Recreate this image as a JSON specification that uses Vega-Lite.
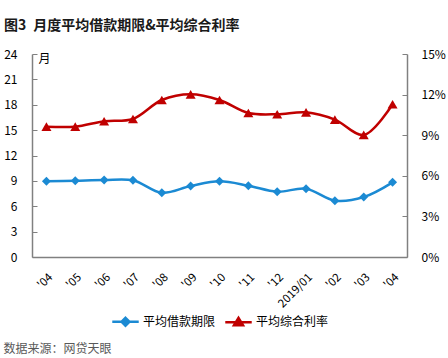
{
  "$schema": "https://vega.github.io/schema/vega-lite/v6.json",
  "autosize": "none",
  "width": 375,
  "height": 203,
  "padding": {"left": 32, "top": 54, "right": 41, "bottom": 101},
  "background": "white",
  "config": {"font": "Noto Sans CJK SC", "view": {"stroke": null}},
  "title": {"text": "图3\u2002月度平均借款期限&平均综合利率", "anchor": "start", "frame": "group", "dx": -28, "fontSize": 14, "fontWeight": "bold", "color": "#1a1a1a", "offset": 15},
  "data": {"values": [
    {"month": "2018-04", "term": 8.95, "rate": 9.63},
    {"month": "2018-05", "term": 9.02, "rate": 9.63},
    {"month": "2018-06", "term": 9.1, "rate": 10.03},
    {"month": "2018-07", "term": 9.07, "rate": 10.2},
    {"month": "2018-08", "term": 7.6, "rate": 11.6},
    {"month": "2018-09", "term": 8.39, "rate": 12.02},
    {"month": "2018-10", "term": 8.95, "rate": 11.6},
    {"month": "2018-11", "term": 8.43, "rate": 10.64},
    {"month": "2018-12", "term": 7.72, "rate": 10.55},
    {"month": "2019-01", "term": 8.07, "rate": 10.69},
    {"month": "2019-02", "term": 6.66, "rate": 10.15},
    {"month": "2019-03", "term": 7.09, "rate": 9.02},
    {"month": "2019-04", "term": 8.83, "rate": 11.29}
  ]},
  "encoding": {
    "x": {
      "field": "month", "type": "ordinal", "sort": null,
      "scale": {"type": "point", "padding": 0.5},
      "axis": {
        "title": "数据来源：网贷天眼", "titleAnchor": "start", "titleAlign": "left", "titleX": -29, "titleY": 91,
        "titleFontSize": 12, "titleFontWeight": "normal", "titleColor": "#595959", "titleBaseline": "middle",
        "labelAngle": -45, "labelFontSize": 11.5, "labelColor": "#000000", "ticks": false, "labelPadding": 14,
        "domainColor": "#808080", "domainWidth": 1.5,
        "labelExpr": "datum.value == '2019-01' ? '2019/01' : \"'\" + substring(datum.value, 5)"
      }
    }
  },
  "layer": [
    {
      "encoding": {
        "y": {"field": "term", "type": "quantitative", "scale": {"domain": [0, 24]},
          "axis": {"values": [0, 3, 6, 9, 12, 15, 18, 21, 24], "title": "月", "titleAngle": 0, "titleX": 6, "titleY": 4,
            "titleAlign": "left", "titleBaseline": "middle", "titleFontWeight": "normal", "titleFontSize": 12,
            "tickSize": -5, "labelPadding": 20, "domainColor": "#808080", "tickColor": "#808080", "domainWidth": 1.5,
            "grid": false, "labelFontSize": 12, "labelColor": "#000000"}},
        "color": {"datum": "平均借款期限", "type": "nominal",
          "scale": {"domain": ["平均借款期限", "平均综合利率"], "range": ["#1b8ad3", "#c00000"]},
          "legend": {"title": null, "orient": "none", "legendX": 79, "legendY": 253, "direction": "horizontal", "symbolSize": 700,
            "symbolStrokeWidth": 2.5, "labelFontSize": 12, "labelColor": "#000000", "columnPadding": 4, "labelOffset": 3,
            "encode": {"symbols": {"update": {
              "shape": {"signal": "datum.value === '平均借款期限' ? 'M-1,0H1M0,-0.3L0.3,0L0,0.3L-0.3,0Z' : 'M-1,0H1M0,-0.32L0.34,0.24L-0.34,0.24Z'"},
              "fill": {"signal": "datum.value === '平均借款期限' ? '#1b8ad3' : '#c00000'"},
              "stroke": {"signal": "datum.value === '平均借款期限' ? '#1b8ad3' : '#c00000'"},
              "strokeWidth": {"value": 2.5}
            }}}}}
      },
      "layer": [
        {"mark": {"type": "line", "strokeWidth": 2.5, "interpolate": "catmull-rom"}},
        {"mark": {"type": "point", "shape": "diamond", "size": 80, "filled": true, "opacity": 1}}
      ]
    },
    {
      "encoding": {
        "y": {"field": "rate", "type": "quantitative", "scale": {"domain": [0, 15]},
          "axis": {"orient": "right", "values": [0, 3, 6, 9, 12, 15], "title": null, "labelExpr": "datum.value + '%'",
            "tickSize": -5, "labelPadding": 19, "domainColor": "#808080", "tickColor": "#808080", "domainWidth": 1.5,
            "grid": false, "labelFontSize": 12, "labelColor": "#000000"}},
        "color": {"datum": "平均综合利率", "type": "nominal"}
      },
      "layer": [
        {"mark": {"type": "line", "strokeWidth": 2.5, "interpolate": "catmull-rom"}},
        {"mark": {"type": "point", "shape": "triangle-up", "size": 100, "filled": true, "opacity": 1}}
      ]
    }
  ],
  "resolve": {"scale": {"y": "independent"}}
}
